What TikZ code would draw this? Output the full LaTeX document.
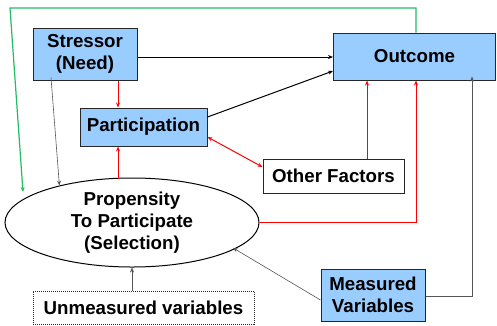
\documentclass[tikz,border=0pt]{standalone}
\usepackage{fontspec}
\setmainfont{Liberation Sans}
\usetikzlibrary{arrows.meta,shapes.geometric}
\definecolor{boxblue}{HTML}{99CCFF}
\definecolor{lnred}{HTML}{FF0000}
\definecolor{lngreen}{HTML}{22BB66}
\definecolor{lngray}{HTML}{555555}
\tikzset{
  lbl/.style={font=\fontsize{18.7}{22}\selectfont\bfseries, align=center, inner sep=0pt},
  bluebox/.style={lbl, draw=black!85, line width=1pt, fill=boxblue, rectangle},
  whitebox/.style={lbl, draw=black!85, line width=1pt, fill=white, rectangle},
  dotbox/.style={lbl, draw=black!85, line width=1pt, densely dotted, fill=white, rectangle},
  tip/.style={-{Stealth[length=5pt,width=4pt]}},
  redln/.style={tip, draw=lnred, line width=1pt},
  blkln/.style={tip, draw=black, line width=1pt},
  grayln/.style={tip, draw=lngray, line width=0.6pt},
  greenln/.style={tip, draw=lngreen, line width=1.2pt}
}
\begin{document}
\begin{tikzpicture}[x=1pt,y=-1pt]
\useasboundingbox (0,0) rectangle (497,325);
\node[bluebox, minimum width=104pt, minimum height=52pt] (stress) at (85,54) {Stressor\\(Need)};
\node[bluebox, minimum width=127pt, minimum height=38pt] (part) at (143.5,127) {Participation};
\node[bluebox, minimum width=162pt, minimum height=47pt] (out) at (414.5,56.5) {Outcome};
\node[whitebox, minimum width=141pt, minimum height=34pt] (oth) at (333.5,176) {Other Factors};
\node[ellipse, draw=black, line width=1pt, lbl, minimum width=254pt, minimum height=89pt] (ell) at (132,222.5) {Propensity\\To Participate\\(Selection)};
\node[dotbox, minimum width=221pt, minimum height=33pt] (unm) at (143.5,307.5) {Unmeasured variables};
\node[bluebox, minimum width=104pt, minimum height=52pt] (meas) at (373,295) {Measured\\Variables};
\coordinate (gtop) at (10,8);
\coordinate (gend) at (23,192);
% green feedback
\draw[greenln] (out.north -| 416,0) |- (gtop) -- (gend);
% black
\draw[blkln] (stress.east |- 0,57) -- (out.west |- 0,57);
\draw[blkln] (part.east |- 0,117) -- (out.west |- 0,71);
% red
\draw[redln] (stress.south -| 118,0) -- (part.north -| 118,0);
\draw[redln] (part.south -| 118,0) ++(0,32) -- (part.south -| 118,0);
\draw[redln, {Stealth[length=5pt,width=4pt]}-{Stealth[length=5pt,width=4pt]}] (part.east |- 0,137) -- (oth.west |- 0,167);
\draw[redln] (oth.north -| 367,0) -- (out.south -| 367,0);
\draw[redln] (ell.east) -| (out.south -| 416,0);
% gray
\draw[grayln, line width=1pt] (meas.east |- 0,296) -| ([yshift=4pt]out.south -| 472,0);
\draw[grayln] ([yshift=3pt]stress.south -| 51,0) -- (ell.153);
\draw[grayln] (meas.west |- 0,300) -- ([shift={(2pt,3pt)}]ell.-16);
\draw[grayln] (unm.north -| ell.south) -- (ell.south);
\end{tikzpicture}
\end{document}
